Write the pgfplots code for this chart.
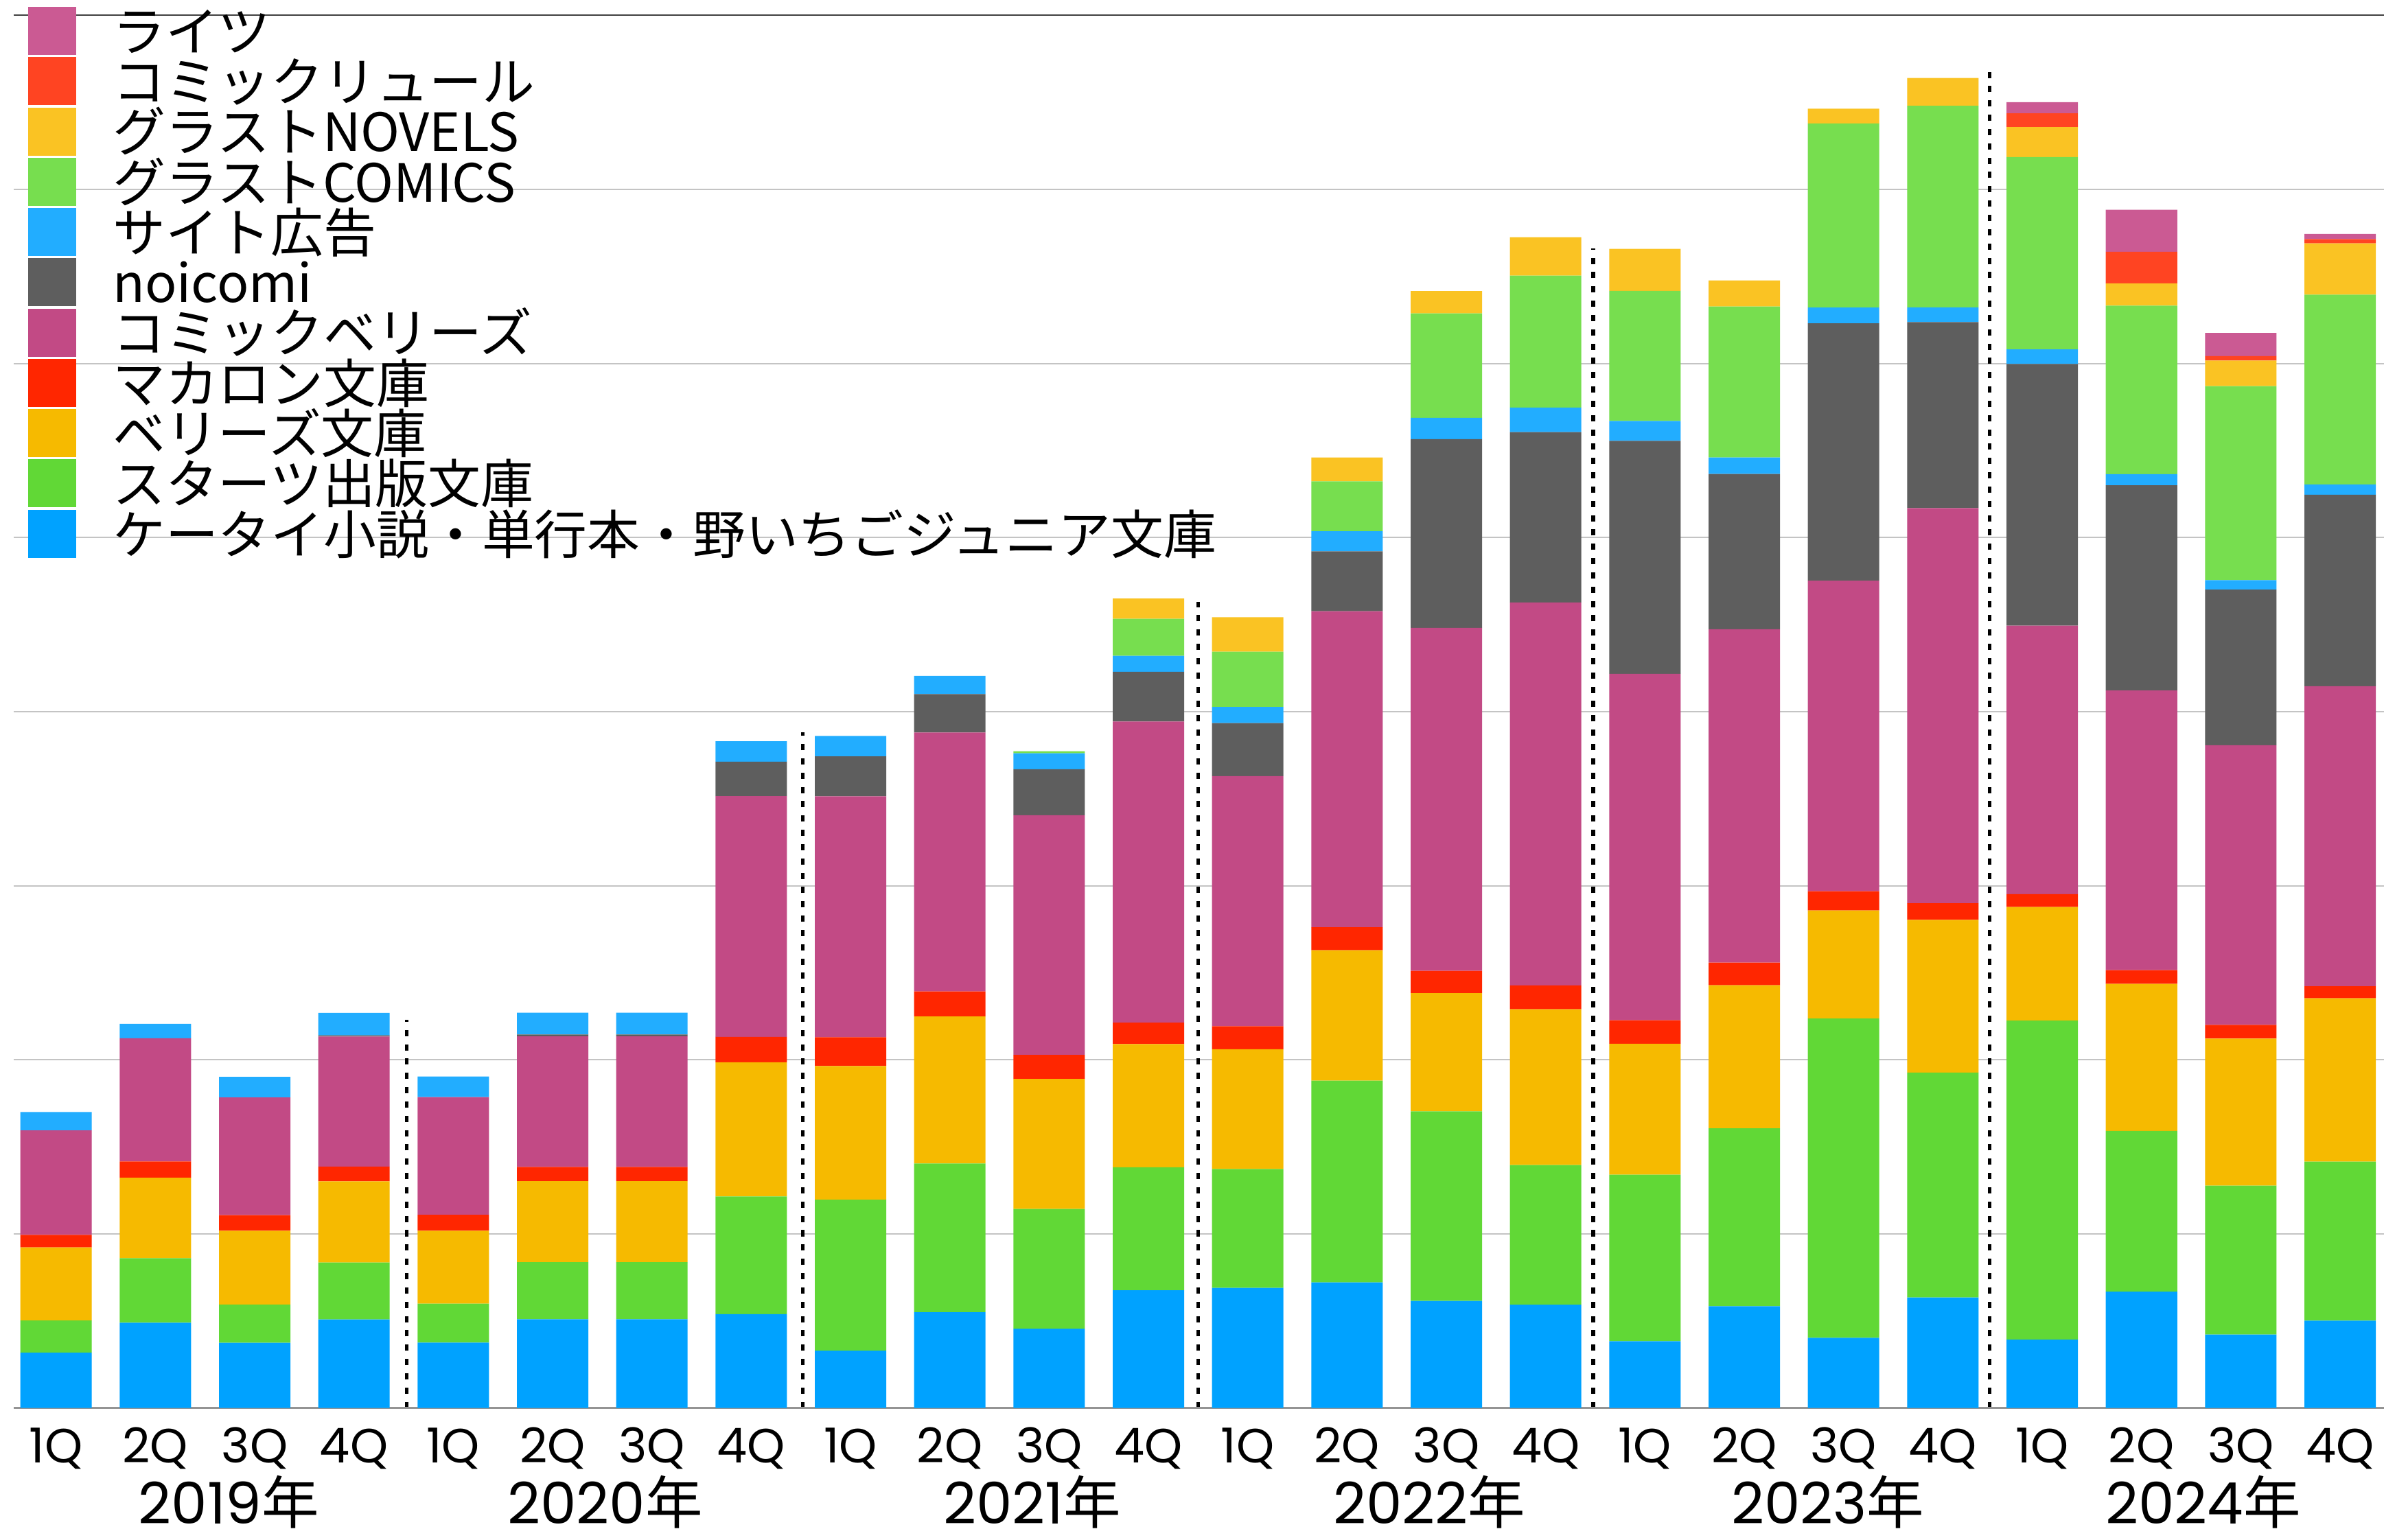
\documentclass[border=0pt]{standalone}
\usepackage{fontspec}
\setmainfont{Noto Sans CJK JP}
\newfontfamily\poppins{Poppins}
\usepackage{pgfplots}
\usepackage{pgfplotstable}
\pgfplotsset{compat=1.18}

\definecolor{cK}{HTML}{00A2FF}
\definecolor{cS}{HTML}{61D836}
\definecolor{cB}{HTML}{F6BA00}
\definecolor{cM}{HTML}{FF2600}
\definecolor{cCB}{HTML}{C24A85}
\definecolor{cN}{HTML}{5E5E5E}
\definecolor{cSite}{HTML}{22ADFF}
\definecolor{cGC}{HTML}{77DE4F}
\definecolor{cGN}{HTML}{FAC323}
\definecolor{cCR}{HTML}{FF4422}
\definecolor{cR}{HTML}{CB5A93}
\definecolor{gridgray}{HTML}{C4C4C4}

% x  keitai starts berrys macaron comicb noicomi site gcomics gnovels ryuru raitsu
\pgfplotstableread{
x  k     s     b     m     cb    n     site  gc    gn    cr    r
0  3.18  1.84  4.20  0.72  6.00  0     1.06  0     0     0     0
1  4.90  3.70  4.62  0.94  7.08  0     0.82  0     0     0     0
2  3.74  2.20  4.24  0.90  6.76  0     1.18  0     0     0     0
3  5.08  3.28  4.66  0.84  7.48  0.06  1.30  0     0     0     0
4  3.75  2.24  4.19  0.92  6.76  0     1.18  0     0     0     0
5  5.09  3.29  4.65  0.82  7.50  0.10  1.26  0     0     0     0
6  5.09  3.29  4.65  0.82  7.50  0.10  1.26  0     0     0     0
7  5.39  6.76  7.71  1.46  13.82 1.98  1.18  0     0     0     0
8  3.29  8.67  7.68  1.66  13.83 2.30  1.17  0     0     0     0
9  5.50  8.54  8.45  1.44  14.87 2.21  1.04  0     0     0     0
10 4.55  6.88  7.47  1.38  13.77 2.64  0.92  0.12  0     0     0
11 6.76  7.07  7.07  1.23  17.30 2.86  0.92  2.12  1.17  0     0
12 6.90  6.83  6.88  1.32  14.37 3.04  0.93  3.17  1.98  0     0
13 7.21  11.59 7.49  1.32  18.16 3.44  1.15  2.87  1.37  0     0
14 6.15  10.89 6.79  1.28  19.70 10.84 1.23  6.00  1.28  0     0
15 5.93  8.02  8.95  1.37  22.00 9.79  1.41  7.58  2.20  0     0
16 3.83  9.57  7.52  1.35  19.90 13.38 1.15  7.47  2.41  0     0
17 5.84  10.22 8.22  1.30  19.15 8.92  0.95  8.67  1.50  0     0
18 4.03  18.34 6.21  1.10  17.84 14.79 0.90  10.58 0.85  0     0
19 6.34  12.93 8.77  0.95  22.70 10.68 0.85  11.58 1.60  0     0
20 3.93  18.32 6.53  0.74  15.42 15.03 0.84  11.05 1.72  0.79  0.64
21 6.68  9.23  8.45  0.79  16.06 11.79 0.64  9.68  1.28  1.82  2.41
22 4.22  8.55  8.45  0.79  16.06 8.94  0.54  11.15 1.47  0.25  1.33
23 5.01  9.14  9.38  0.69  17.24 11.00 0.59  10.90 2.95  0.25  0.29
}\datatable

\begin{document}
\begin{tikzpicture}
\begin{axis}[
  name=ax,
  at={(0,0)}, anchor=south west,
  scale only axis, width=517.01pt, height=303.84pt,
  xmin=-0.4265, xmax=23.442, ymin=0, ymax=80,
  ybar stacked, bar width=0.719,
  axis line style={draw=none},
  ytick={10,20,...,70}, yticklabels={},
  ymajorgrids, grid style={color=gridgray, line width=0.3pt},
  major tick length=0pt,
  xtick={0,...,23},
  xticklabels={1Q,2Q,3Q,4Q,1Q,2Q,3Q,4Q,1Q,2Q,3Q,4Q,1Q,2Q,3Q,4Q,1Q,2Q,3Q,4Q,1Q,2Q,3Q,4Q},
  xticklabel style={font=\poppins\fontsize{10.5}{10.5}\selectfont, anchor=base, yshift=-12pt, inner sep=0pt},
  clip=false,
  reverse legend,
  legend cell align=left,
  legend image code/.code={\fill[#1,draw=none] (0pt,-5.24pt) rectangle (10.48pt,5.24pt);},
  legend style={at={(axis description cs:0.00607,1.00686)}, anchor=north west,
    draw=none, fill=none, inner sep=0pt, outer sep=0pt,
    row sep=0pt, column sep=8pt,
    font=\fontsize{11.5}{11.5}\selectfont,
    nodes={inner sep=0pt, text height=9.885pt, text depth=1.085pt}},
]
\addplot[fill=cK, draw=none] table[x=x, y=k] {\datatable};
\addlegendentry{ケータイ小説・単行本・野いちごジュニア文庫}
\addplot[fill=cS, draw=none] table[x=x, y=s] {\datatable};
\addlegendentry{スターツ出版文庫}
\addplot[fill=cB, draw=none] table[x=x, y=b] {\datatable};
\addlegendentry{ベリーズ文庫}
\addplot[fill=cM, draw=none] table[x=x, y=m] {\datatable};
\addlegendentry{マカロン文庫}
\addplot[fill=cCB, draw=none] table[x=x, y=cb] {\datatable};
\addlegendentry{コミックベリーズ}
\addplot[fill=cN, draw=none] table[x=x, y=n] {\datatable};
\addlegendentry{noicomi}
\addplot[fill=cSite, draw=none] table[x=x, y=site] {\datatable};
\addlegendentry{サイト広告}
\addplot[fill=cGC, draw=none] table[x=x, y=gc] {\datatable};
\addlegendentry{グラストCOMICS}
\addplot[fill=cGN, draw=none] table[x=x, y=gn] {\datatable};
\addlegendentry{グラストNOVELS}
\addplot[fill=cCR, draw=none] table[x=x, y=cr] {\datatable};
\addlegendentry{コミックリュール}
\addplot[fill=cR, draw=none] table[x=x, y=r] {\datatable};
\addlegendentry{ライツ}

\draw[color=black!75, line width=0.3pt] (rel axis cs:0,1) -- (rel axis cs:1,1);
\draw[color=black!42, line width=0.45pt] (rel axis cs:0,0) -- (rel axis cs:1,0);

\tikzset{yrsep/.style={black, line width=0.8pt, dash pattern=on 1.35pt off 1.77pt}}
\draw[yrsep] (axis cs:3.53,0) -- (axis cs:3.53,22.3);
\draw[yrsep] (axis cs:7.52,0) -- (axis cs:7.52,38.8);
\draw[yrsep] (axis cs:11.5,0) -- (axis cs:11.5,46.3);
\draw[yrsep] (axis cs:15.48,0) -- (axis cs:15.48,66.6);
\draw[yrsep] (axis cs:19.47,0) -- (axis cs:19.47,77.1);

\tikzset{yrlab/.style={anchor=base, inner sep=0pt, text depth=0pt, font=\fontsize{12.5}{12.5}\selectfont}}
\node[yrlab] at ([yshift=-25.3pt]axis cs:1.74,0) {{\poppins 2019}年};
\node[yrlab] at ([yshift=-25.3pt]axis cs:5.53,0) {{\poppins 2020}年};
\node[yrlab] at ([yshift=-25.3pt]axis cs:9.83,0) {{\poppins 2021}年};
\node[yrlab] at ([yshift=-25.3pt]axis cs:13.83,0) {{\poppins 2022}年};
\node[yrlab] at ([yshift=-25.3pt]axis cs:17.84,0) {{\poppins 2023}年};
\node[yrlab] at ([yshift=-25.3pt]axis cs:21.62,0) {{\poppins 2024}年};
\end{axis}
\pgfresetboundingbox
\path[use as bounding box] ([xshift=-2.99pt,yshift=-28.81pt]ax.south west) rectangle ([yshift=3.34pt]ax.north east);
\end{tikzpicture}
\end{document}
